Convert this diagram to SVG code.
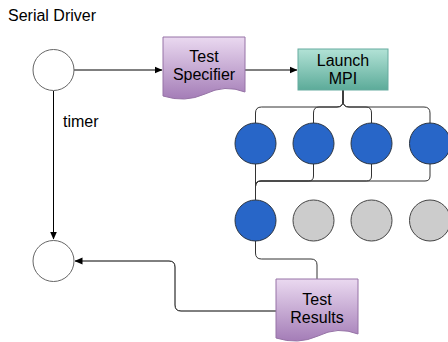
<svg xmlns="http://www.w3.org/2000/svg" width="448" height="342" viewBox="0 0 448 342">
<defs>
<linearGradient id="gp" x1="0" y1="0" x2="0" y2="1"><stop offset="0" stop-color="#ead9f0"/><stop offset="1" stop-color="#a47db7"/></linearGradient>
<linearGradient id="gt" x1="0" y1="0" x2="0" y2="1"><stop offset="0" stop-color="#b2e2d6"/><stop offset="1" stop-color="#5cab99"/></linearGradient>
<marker id="ar" viewBox="0 0 8 8" refX="7.5" refY="4" markerWidth="8" markerHeight="8" markerUnits="userSpaceOnUse" orient="auto"><path d="M0,0.5 L8,4 L0,7.5 Z" fill="#000"/></marker>
</defs>
<style>
text{font-family:"Liberation Sans",Arial,sans-serif;font-size:16px;fill:#000}
.c{text-anchor:middle}
.e{fill:none;stroke:#000;stroke-width:1}
.f{fill:none;stroke:#333;stroke-width:1}
.w{fill:#fff;stroke:#666;stroke-width:1}
.b{fill:#2866c8;stroke:#2a3442;stroke-width:1}
.g{fill:#cccccc;stroke:#444;stroke-width:1}
.doc{fill:url(#gp);stroke:#9673a6;stroke-width:1}
</style>
<text x="8" y="21">Serial Driver</text>
<g id="connectors">
<path class="e" d="M74,70 H162" marker-end="url(#ar)"/>
<path class="e" d="M245,70 H297" marker-end="url(#ar)"/>
<path class="e" d="M53.5,91 V239" marker-end="url(#ar)"/>
<path class="f" d="M343,90 V101 Q343,107 337,107 H261.5 Q255.5,107 255.5,113 V123"/>
<path class="f" d="M343,90 V101 Q343,107 337,107 H319 Q313.5,107 313.5,113 V123"/>
<path class="f" d="M343,90 V101 Q343,107 349,107 H366 Q371.5,107 371.5,113 V123"/>
<path class="f" d="M343,90 V101 Q343,107 349,107 H424 Q430,107 430,113 V123"/>
<path class="f" d="M255.5,164 V200"/>
<path class="f" d="M313.5,164 V176 Q313.5,181 308.5,181 H261 Q255.5,181 255.5,186.5 V200"/>
<path class="f" d="M371.5,164 V176 Q371.5,181 366.5,181 H261 Q255.5,181 255.5,186.5 V200"/>
<path class="f" d="M430,164 V176 Q430,181 425,181 H261 Q255.5,181 255.5,186.5 V200"/>
<path class="f" d="M255.5,241 V253 Q255.5,259 261.5,259 H311 Q317,259 317,265 V279"/>
<path class="e" stroke="#444" d="M276,311 H181 Q175,311 175,305 V267 Q175,261 169,261 H75" marker-end="url(#ar)"/>
<text x="63" y="127">timer</text>
</g>
<g id="start"><circle class="w" cx="53.5" cy="70" r="20.5"/></g>
<g id="end"><circle class="w" cx="53.5" cy="261" r="20.5"/></g>
<g id="test-specifier">
<path class="doc" d="M163,37 H245 V92 Q225,84 205,94 Q185,103 163,96 Z"/>
<text class="c" x="204" y="62">Test</text>
<text class="c" x="204" y="80">Specifier</text>
</g>
<g id="launch-mpi">
<rect x="298" y="49" width="90" height="41" fill="url(#gt)" stroke="#67ab9f"/>
<text class="c" x="343" y="66">Launch</text>
<text class="c" x="343" y="84">MPI</text>
</g>
<g id="p1"><circle class="b" cx="255.5" cy="143.5" r="20.5"/></g>
<g id="p2"><circle class="b" cx="313.5" cy="143.5" r="20.5"/></g>
<g id="p3"><circle class="b" cx="371.5" cy="143.5" r="20.5"/></g>
<g id="p4"><circle class="b" cx="430" cy="143.5" r="20.5"/></g>
<g id="q1"><circle class="b" cx="255.5" cy="220.5" r="20.5"/></g>
<g id="q2"><circle class="g" cx="313.5" cy="220.5" r="20.5"/></g>
<g id="q3"><circle class="g" cx="371.5" cy="220.5" r="20.5"/></g>
<g id="q4"><circle class="g" cx="430" cy="220.5" r="20.5"/></g>
<g id="test-results">
<path class="doc" d="M276,279 H358 V334 Q338,326 318,336 Q298,345 276,338 Z"/>
<text class="c" x="317" y="305">Test</text>
<text class="c" x="317" y="323">Results</text>
</g>
</svg>
